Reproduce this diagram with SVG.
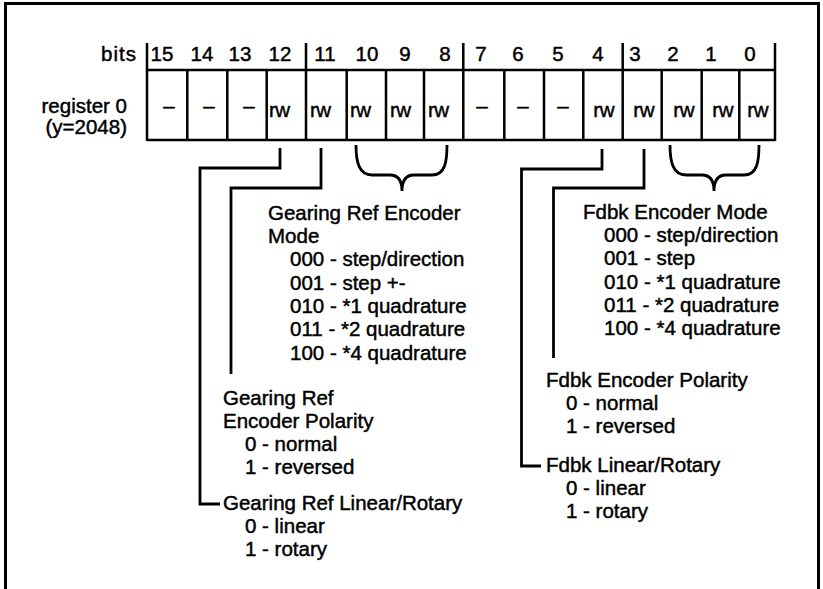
<svg xmlns="http://www.w3.org/2000/svg" width="823" height="589" viewBox="0 0 823 589">
<style>
text{font-family:"Liberation Sans",Arial,Helvetica,sans-serif;font-size:20.5px;fill:#000;stroke:#000;stroke-width:0.45}
.c{text-anchor:middle}
.e{text-anchor:end}
.rw{letter-spacing:-0.5px}
.grid{stroke:#000;stroke-width:2.5;fill:none}
.conn{stroke:#000;stroke-width:2.8;fill:none;stroke-linejoin:miter}
</style>
<rect width="823" height="589" fill="#fff"/>
<path d="M5.5,589 V3.5 H818.5 V589" fill="none" stroke="#000" stroke-width="3"/>

<g id="register-0">
  <text class="e" x="137" y="61" letter-spacing="1">bits</text>
  <text class="e" x="127" y="113">register 0</text>
  <text class="e" x="127" y="134">(y=2048)</text>
  <g class="c">
    <text x="162" y="61">15</text><text x="202" y="61">14</text><text x="240" y="61">13</text><text x="280" y="61">12</text>
    <text x="325" y="61">11</text><text x="367" y="61">10</text><text x="405" y="61">9</text><text x="445" y="61">8</text>
    <text x="481" y="61">7</text><text x="518" y="61">6</text><text x="558" y="61">5</text><text x="598" y="61">4</text>
    <text x="635" y="61">3</text><text x="673" y="61">2</text><text x="711" y="61">1</text><text x="750" y="61">0</text>
  </g>
  <path class="grid" d="M147,43 V141 M306,43 V141 M463.3,43 V141 M622.7,43 V141 M775,43 V141
    M187.3,70 V141 M227.3,70 V141 M266.7,70 V141 M346.7,70 V141 M386,70 V141 M424,70 V141
    M504.3,70 V141 M544,70 V141 M583.3,70 V141 M661.7,70 V141 M701.7,70 V141 M739.3,70 V141
    M147,70 H775 M147,140 H775"/>
  <g class="c">
    <text x="169" y="113">–</text><text x="209" y="113">–</text><text x="249" y="113">–</text>
    <text x="482" y="113">–</text><text x="523" y="113">–</text><text x="563" y="113">–</text>
  </g>
  <g class="rw">
    <text x="269" y="117">rw</text><text x="310" y="117">rw</text><text x="350" y="117">rw</text>
    <text x="390" y="117">rw</text><text x="428" y="117">rw</text>
  </g>
  <g class="rw e">
    <text x="614" y="117">rw</text><text x="654" y="117">rw</text><text x="694" y="117">rw</text>
    <text x="733" y="117">rw</text><text x="768" y="117">rw</text>
  </g>
</g>

<g id="connectors">
  <path class="conn" d="M280,148 V168 H200 V504 H220"/>
  <path class="conn" d="M321,148 V188 H231 V374"/>
  <path class="conn" d="M356,145 C356,162 359,175 372,175 H390 C398,175 402,180 402,191 C402,180 406,175 414,175 H432 C445,175 447,162 447,145"/>
  <path class="conn" d="M602,149 V169 H521.5 V466 H541"/>
  <path class="conn" d="M644,149 V188 H553.5 V358"/>
  <path class="conn" d="M670,145 C670,162 673,175 686,175 H702 C710,175 714,180 714,191 C714,180 718,175 726,175 H744 C757,175 759,162 759,145"/>
</g>

<g id="gearing-ref-encoder-mode">
  <text x="268" y="220">Gearing Ref Encoder</text>
  <text x="268" y="243">Mode</text>
  <text x="290" y="266">000 - step/direction</text>
  <text x="290" y="290">001 - step +-</text>
  <text x="290" y="313">010 - *1 quadrature</text>
  <text x="290" y="336">011 - *2 quadrature</text>
  <text x="290" y="360">100 - *4 quadrature</text>
</g>

<g id="gearing-ref-encoder-polarity">
  <text x="223" y="405">Gearing Ref</text>
  <text x="223" y="428">Encoder Polarity</text>
  <text x="245" y="451">0 - normal</text>
  <text x="245" y="474">1 - reversed</text>
</g>

<g id="gearing-ref-linear-rotary">
  <text x="223" y="510">Gearing Ref Linear/Rotary</text>
  <text x="245" y="533">0 - linear</text>
  <text x="245" y="556">1 - rotary</text>
</g>

<g id="fdbk-encoder-mode">
  <text x="583" y="219">Fdbk Encoder Mode</text>
  <text x="604" y="242">000 - step/direction</text>
  <text x="604" y="265">001 - step</text>
  <text x="604" y="289">010 - *1 quadrature</text>
  <text x="604" y="312">011 - *2 quadrature</text>
  <text x="604" y="335">100 - *4 quadrature</text>
</g>

<g id="fdbk-encoder-polarity">
  <text x="546" y="387">Fdbk Encoder Polarity</text>
  <text x="566" y="410">0 - normal</text>
  <text x="566" y="433">1 - reversed</text>
</g>

<g id="fdbk-linear-rotary">
  <text x="546" y="472">Fdbk Linear/Rotary</text>
  <text x="566" y="495">0 - linear</text>
  <text x="566" y="518">1 - rotary</text>
</g>
</svg>
